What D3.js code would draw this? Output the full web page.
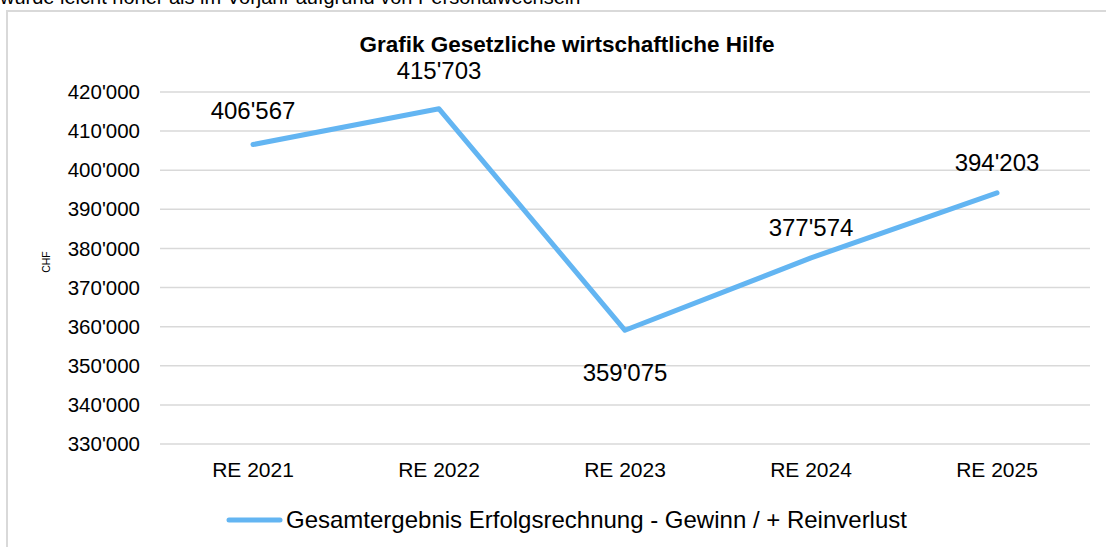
<!DOCTYPE html>
<html>
<head>
<meta charset="utf-8">
<script src="https://cdn.jsdelivr.net/npm/d3@7"></script>
<style>
  body { margin: 0; background: #fff; }
  svg { display: block; font-family: "Liberation Sans", Arial, sans-serif; }
</style>
</head>
<body>
<script>
const categories = ['RE 2021', 'RE 2022', 'RE 2023', 'RE 2024', 'RE 2025'];
const values = [406567, 415703, 359075, 377574, 394203];
const yTicks = [330000, 340000, 350000, 360000, 370000, 380000, 390000, 400000, 410000, 420000];
const seriesName = 'Gesamtergebnis Erfolgsrechnung - Gewinn / + Reinverlust';
const chartTitle = 'Grafik Gesetzliche wirtschaftliche Hilfe';

let width = 1106,
    height = 547;

const svg = d3.select('body').append('svg')
    .attr('width', width)
    .attr('height', height);

// text of the page above the chart, cut off by the screenshot
svg.append('text')
    .attr('x', 0)
    .attr('y', 4)
    .attr('font-size', 20)
    .attr('fill', '#000')
    .text('wurde leicht höher als im Vorjahr aufgrund von Personalwechseln');

// chart frame
svg.append('rect')
    .attr('x', 7)
    .attr('y', 11)
    .attr('width', 1120)
    .attr('height', 560)
    .attr('fill', '#fff')
    .attr('stroke', '#d9d9d9')
    .attr('stroke-width', 2);

const x = d3.scaleBand()
    .domain(categories)
    .range([160, 1090]);

const y = d3.scaleLinear()
    .domain([330000, 420000])
    .range([444, 92]);

const fmt = v => d3.format(',')(v).replace(/,/g, "'");

// gridlines
svg.append('g')
    .selectAll('line')
    .data(yTicks)
    .enter().append('line')
    .attr('x1', 160)
    .attr('x2', 1090)
    .attr('y1', d => y(d))
    .attr('y2', d => y(d))
    .attr('stroke', '#d9d9d9')
    .attr('stroke-width', 1.5);

// y axis labels
const yAxis = svg.append('g')
    .attr('transform', 'translate(160,0)')
    .call(d3.axisLeft(y).tickValues(yTicks).tickSize(0).tickPadding(20).tickFormat(fmt));
yAxis.select('.domain').remove();
yAxis.selectAll('text')
    .attr('font-size', 20.5)
    .attr('font-family', '"Liberation Sans", Arial, sans-serif')
    .attr('fill', '#000');

// x axis labels
const xAxis = svg.append('g')
    .attr('transform', 'translate(0,444)')
    .call(d3.axisBottom(x).tickSize(0));
xAxis.select('.domain').remove();
xAxis.selectAll('text')
    .attr('y', 33)
    .attr('dy', null)
    .attr('font-size', 21)
    .attr('font-family', '"Liberation Sans", Arial, sans-serif')
    .attr('fill', '#000');

// y axis title
svg.append('text')
    .attr('transform', 'translate(50,262) rotate(-90)')
    .attr('text-anchor', 'middle')
    .attr('font-size', 10.5)
    .attr('fill', '#000')
    .text('CHF');

// title
svg.append('text')
    .attr('x', 567)
    .attr('y', 52)
    .attr('text-anchor', 'middle')
    .attr('font-size', 22.5)
    .attr('font-weight', 'bold')
    .attr('fill', '#000')
    .text(chartTitle);

const line = d3.line()
    .x((d, i) => x(categories[i]) + x.bandwidth() / 2)
    .y(d => y(d));

svg.append('path')
    .datum(values)
    .attr('d', line)
    .attr('fill', 'none')
    .attr('stroke', '#63b5f2')
    .attr('stroke-width', 5)
    .attr('stroke-linejoin', 'round')
    .attr('stroke-linecap', 'round');

// data labels: above the line, except the low point below
const labelDy = [-26, -30, 51, -22, -22];
svg.append('g')
    .selectAll('text')
    .data(values)
    .enter().append('text')
    .attr('x', (d, i) => x(categories[i]) + x.bandwidth() / 2)
    .attr('y', (d, i) => y(d) + labelDy[i])
    .attr('text-anchor', 'middle')
    .attr('font-size', 24)
    .attr('fill', '#000')
    .text(fmt);

// legend
svg.append('line')
    .attr('x1', 229)
    .attr('x2', 280)
    .attr('y1', 520)
    .attr('y2', 520)
    .attr('stroke', '#63b5f2')
    .attr('stroke-width', 5)
    .attr('stroke-linecap', 'round');

svg.append('text')
    .attr('x', 286)
    .attr('y', 528)
    .attr('font-size', 24)
    .attr('fill', '#000')
    .text(seriesName);
</script>
</body>
</html>
